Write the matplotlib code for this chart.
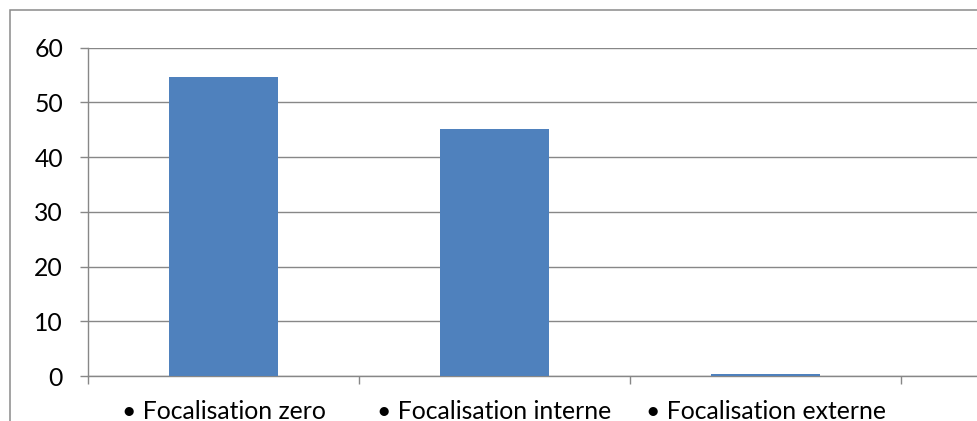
import matplotlib
matplotlib.use("Agg")
import matplotlib.pyplot as plt
from matplotlib.patches import Rectangle
from matplotlib.ticker import FixedLocator

categories = ["Focalisation zero", "Focalisation interne", "Focalisation externe"]
values = [54.6, 45.1, 0.3]
yticks = [0, 10, 20, 30, 40, 50, 60]

plt.rcParams['font.family'] = ['Lato', 'DejaVu Sans']

W, H = 978, 421
fig = plt.figure(figsize=(W / 100, H / 100), dpi=100)
grey = "#878787"

# outer chart border (cropped at right/bottom)
fig.patches.append(Rectangle((9.5 / W, -0.2), 2.0, 1.2 - 9.5 / H - 0.0,
                             transform=fig.transFigure, fill=False,
                             edgecolor="#8a8a8a", linewidth=1.1))

left, right = 88 / W, 1.0
bottom, top = 1 - 376 / H, 1 - 47.7 / H
ax = fig.add_axes([left, bottom, right - left, top - bottom])

x = list(range(len(categories)))
ax.bar(x, values, width=0.4, color="#4F81BD", zorder=3)

ax.set_ylim(0, 60)
ax.set_xlim(-0.5, -0.5 + (W - 88) / 271)
ax.set_yticks(yticks)
ax.yaxis.grid(True, color=grey, linewidth=1.0, zorder=0)
ax.set_axisbelow(True)

for s in ["top", "right"]:
    ax.spines[s].set_visible(False)
for s in ["left", "bottom"]:
    ax.spines[s].set_color(grey)
    ax.spines[s].set_linewidth(1.0)

ax.set_xticks(x)
ax.set_xticklabels(["\u2022 " + c for c in categories])
ax.xaxis.set_minor_locator(FixedLocator([-0.5, 0.5, 1.5, 2.5]))
ax.tick_params(axis="x", which="major", length=0, pad=17, labelsize=17.8, colors="black")
ax.tick_params(axis="x", which="minor", length=6, width=1.0, color=grey, direction="out")
ax.tick_params(axis="y", length=6, width=1.0, color=grey, pad=12, labelsize=17.8)

fig.savefig("out.png", dpi=100)
